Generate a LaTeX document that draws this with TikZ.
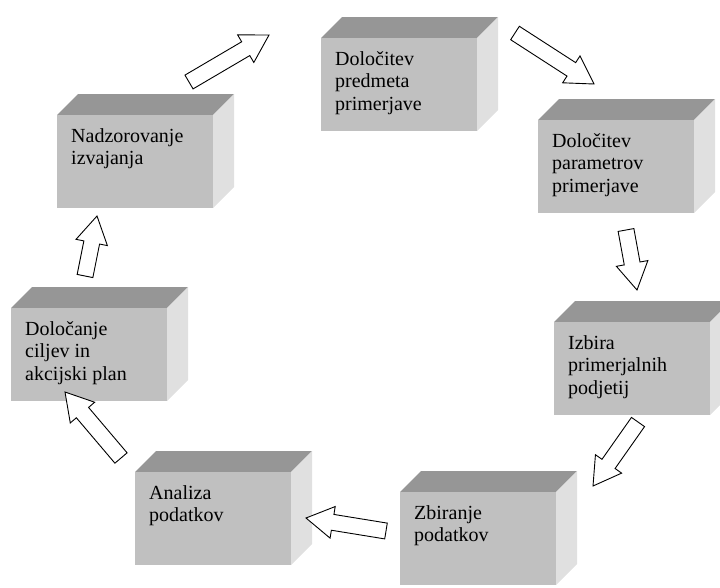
\documentclass[tikz,border=0pt]{standalone}
\usepackage{fontspec}
\setmainfont{Liberation Serif}
\usetikzlibrary{calc}

\definecolor{boxfront}{RGB}{192,192,192}
\definecolor{boxtop}{RGB}{150,150,150}
\definecolor{boxside}{RGB}{224,224,224}

\begin{document}
\begin{tikzpicture}[x=1pt, y=-1pt,
		front/.style={fill=boxfront, minimum width=156pt, minimum height=93pt, inner sep=0pt, anchor=north west},
		boxtext/.style={inner sep=0pt, anchor=north west, align=left, font=\fontsize{20}{22.3}\selectfont},
		flow/.style={draw=black, fill=white, line width=0.9pt, line join=miter}]
	\useasboundingbox (0,0) rectangle (720,587);
	\clip (0,0) rectangle (720,587);
	
	% box: name, x, y, text
	\def\prbox#1#2#3#4{%
		\fill[boxtop] (#2,#3) -- ++(21,-21) -- ++(156,0) -- ++(-21,21) -- cycle;
		\fill[boxside] (#2+156,#3) -- ++(21,-21) -- ++(0,93) -- ++(-21,21) -- cycle;
		\node[front] (#1) at (#2,#3) {};
		\node[boxtext] (#1-txt) at (#2+14,#3+13.5) {#4};
	}
	% block arrow: from, to
	\def\blockarrow#1#2{%
		\coordinate (h) at ($(#2)!27pt!(#1)$);
		\draw[flow] ($(#1)!8pt!90:(#2)$) -- ($(h)!8pt!90:(#2)$) -- ($(h)!16pt!90:(#2)$)
			-- (#2) -- ($(h)!16pt!-90:(#2)$) -- ($(h)!8pt!-90:(#2)$) -- ($(#1)!8pt!-90:(#2)$) -- cycle;
	}
	
	\prbox{predmet}{321}{38}{Določitev\\predmeta\\primerjave}
	\prbox{parametri}{538}{120}{Določitev\\parametrov\\primerjave}
	\prbox{izbira}{554}{322}{Izbira\\primerjalnih\\podjetij}
	\prbox{zbiranje}{400}{492}{Zbiranje\\podatkov}
	\prbox{analiza}{135}{472}{Analiza\\podatkov}
	\prbox{cilji}{11}{308}{Določanje\\ciljev in\\akcijski plan}
	\prbox{nadzor}{57}{115}{Nadzorovanje\\izvajanja}
	
	\coordinate (a1s) at (189,82);  \coordinate (a1e) at (269,35);
	\coordinate (a2s) at (515,33);  \coordinate (a2e) at (594,84);
	\coordinate (a3s) at (626,230); \coordinate (a3e) at (637,290);
	\coordinate (a4s) at (638,422); \coordinate (a4e) at (593,486);
	\coordinate (a5s) at (386,531); \coordinate (a5e) at (306,518);
	\coordinate (a6s) at (121,458); \coordinate (a6e) at (65,392);
	\coordinate (a7s) at (85,276);  \coordinate (a7e) at (97,216);
	
	\blockarrow{a1s}{a1e}
	\blockarrow{a2s}{a2e}
	\blockarrow{a3s}{a3e}
	\blockarrow{a4s}{a4e}
	\blockarrow{a5s}{a5e}
	\blockarrow{a6s}{a6e}
	\blockarrow{a7s}{a7e}
\end{tikzpicture}
\end{document}
